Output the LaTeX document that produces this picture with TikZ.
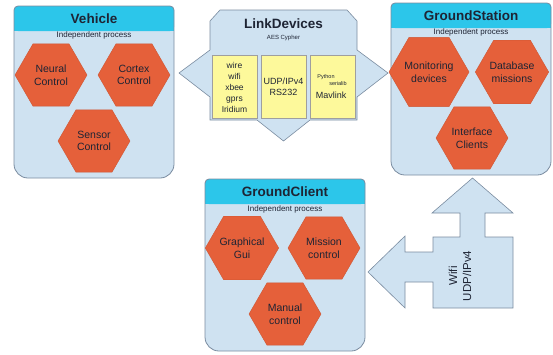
\documentclass[tikz,border=0pt]{standalone}
\usepackage{fontspec}
\setmainfont{Liberation Sans}
\usetikzlibrary{shapes.geometric}

\definecolor{procblue}{RGB}{207,226,241}
\definecolor{headcyan}{RGB}{44,198,234}
\definecolor{hexred}{RGB}{229,96,58}
\definecolor{noteyellow}{RGB}{253,249,155}
\definecolor{edgegray}{RGB}{122,140,160}
\definecolor{inkdark}{RGB}{30,36,52}

\begin{document}
\begin{tikzpicture}[x = 1pt, y = -1pt,
	hexnode/.style = {regular polygon, regular polygon sides = 6, minimum size = 72pt, inner sep = 0pt,
		fill = hexred, draw = hexred!90!black, line width = 0.4pt, align = center, text = inkdark,
		font = \fontsize{10.5}{12.5}\selectfont},
	title/.style = {font = \bfseries\fontsize{13.5}{15}\selectfont, text = inkdark},
	subtitle/.style = {font = \fontsize{8}{9}\selectfont, text = inkdark},
	note/.style = {fill = noteyellow, draw = gray!75, line width = 0.6pt, minimum width = 45pt,
		minimum height = 63pt, inner sep = 0pt, align = center, text = inkdark,
		font = \fontsize{8.5}{11}\selectfont}
]
\useasboundingbox (0,0) rectangle (553,354);
\foreach \bx/\by in {14/6, 391/3, 205/179}
{
	\begin{scope}[shift = {(\bx,\by)}]
		\fill[procblue] (0,20) [rounded corners = 4pt] -- (0,0) -- (160,0) -- (160,20) [rounded corners = 14pt] -- (160,172) -- (0,172) -- cycle;
		\fill[headcyan, rounded corners = 4pt] (0,0) rectangle (160,25);
		\fill[headcyan] (0,12) rectangle (160,25);
		\draw[edgegray, line width = 0.8pt] (0,20) [rounded corners = 4pt] -- (0,0) -- (160,0) -- (160,20) [rounded corners = 14pt] -- (160,172) -- (0,172) -- cycle;
	\end{scope}
}
\node[title] (vehicle) at (94,18.5) {Vehicle};
\node[subtitle] (vehicleproc) at (94,35) {Independent process};
\node[hexnode] (neural) at (51,75) {Neural\\Control};
\node[hexnode] (cortex) at (134,75) {Cortex\\Control};
\node[hexnode] (sensor) at (94,141) {Sensor\\Control};
\node[title] (groundstation) at (471,15.5) {GroundStation};
\node[subtitle] (stationproc) at (471,32) {Independent process};
\node[hexnode] (monitoring) at (429,72) {Monitoring\\devices};
\node[hexnode] (database) at (512,72) {Database\\missions};
\node[hexnode] (interface) at (472,138) {Interface\\Clients};
\node[title] (groundclient) at (285,191.5) {GroundClient};
\node[subtitle] (clientproc) at (285,209) {Independent process};
\node[hexnode] (graphical) at (242,248) {Graphical\\Gui};
\node[hexnode] (mission) at (324,248) {Mission\\control};
\node[hexnode] (manual) at (285,314) {Manual\\control};
\filldraw[procblue, draw = edgegray, line width = 0.6pt] (220,10) -- (347,10) -- (357,21) -- (357,50) -- (388,73) -- (357,97) -- (357,120) -- (310,120) -- (283.5,141) -- (257,120) -- (210,120) -- (210,97) -- (179,73) -- (210,50) -- (210,21) -- cycle;
\node[title] (linkdevices) at (283.5,24) {LinkDevices};
\node[font = \fontsize{6}{7}\selectfont, text = inkdark] (cypher) at (283.5,38) {AES Cypher};
\node[note] (radios) at (234.5,87) {wire\\wifi\\xbee\\gprs\\Iridium};
\node[note, font = \fontsize{9}{11}\selectfont] (protocols) at (283.5,87) {UDP/IPv4\\RS232};
\node[note] (libraries) at (332.5,87) {};
\node[font = \fontsize{5.5}{6}\selectfont, text = inkdark] (python) at (326,77) {Python};
\node[font = \fontsize{5.5}{6}\selectfont, text = inkdark] (serialib) at (338,84) {serialib};
\node[font = \fontsize{9}{11}\selectfont, text = inkdark] (mavlink) at (331,95) {Mavlink};
\filldraw[procblue, draw = edgegray, line width = 0.6pt] (472.5,178) -- (513,213) -- (485,213) -- (485,237) -- (513,237) -- (513,308) -- (433,308) -- (433,282) -- (405,282) -- (405,308) -- (368,272) -- (405,236) -- (405,252) -- (433,252) -- (433,237) -- (460,237) -- (460,213) -- (432,213) -- cycle;
\node[rotate = 90, align = center, text = inkdark, font = \fontsize{11.5}{14}\selectfont] (wifi) at (460,276) {Wifi\\UDP/IPv4};
\end{tikzpicture}
\end{document}
